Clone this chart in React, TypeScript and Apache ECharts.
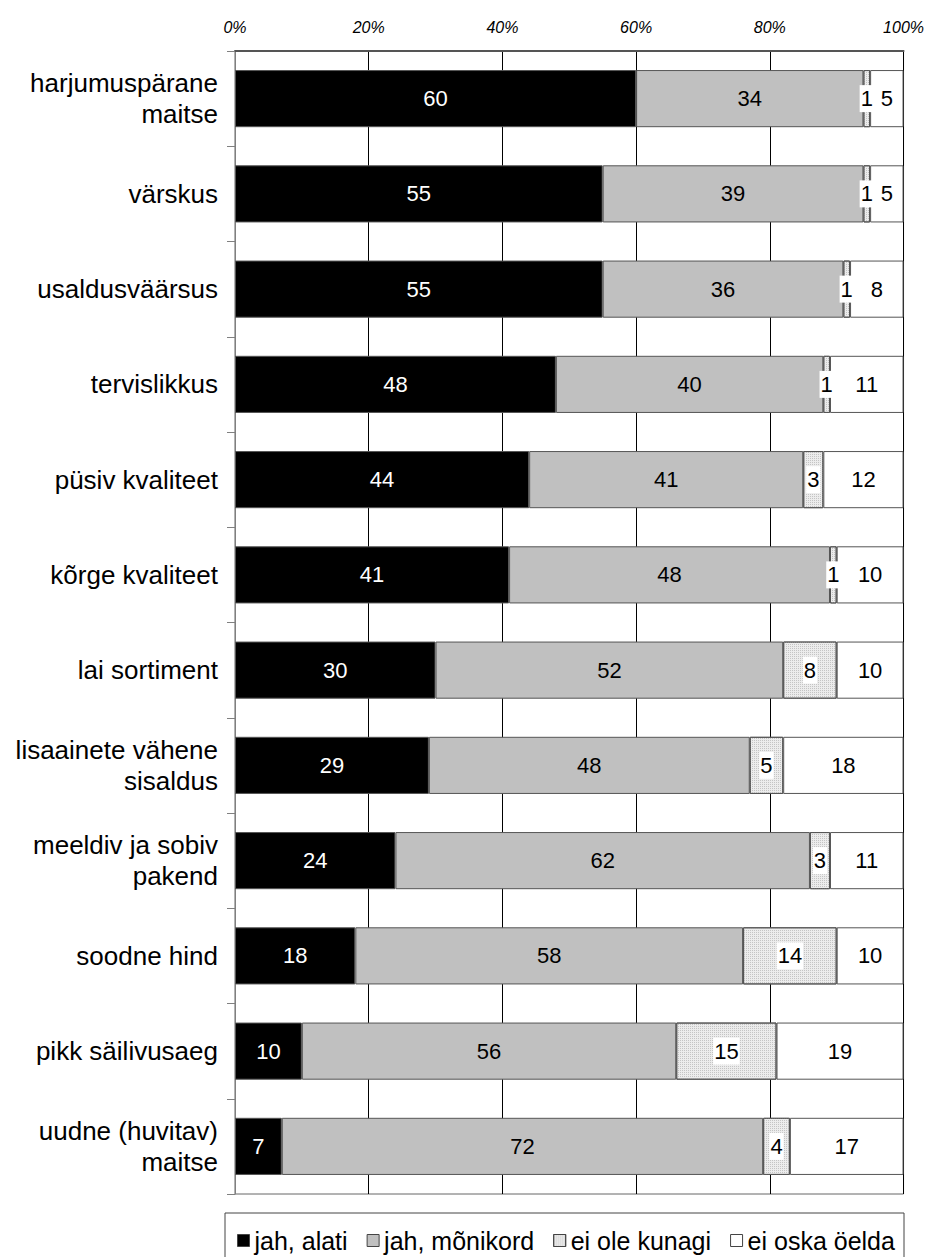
import React, { useEffect, useRef } from "react";
import * as echarts from "echarts";

const categories = [
  "harjumuspärane\nmaitse",
  "värskus",
  "usaldusväärsus",
  "tervislikkus",
  "püsiv kvaliteet",
  "kõrge kvaliteet",
  "lai sortiment",
  "lisaainete vähene\nsisaldus",
  "meeldiv ja sobiv\npakend",
  "soodne hind",
  "pikk säilivusaeg",
  "uudne (huvitav)\nmaitse",
];
const jahAlati = [60, 55, 55, 48, 44, 41, 30, 29, 24, 18, 10, 7];
const jahMonikord = [34, 39, 36, 40, 41, 48, 52, 48, 62, 58, 56, 72];
const eiOleKunagi = [1, 1, 1, 1, 3, 1, 8, 5, 3, 14, 15, 4];
const eiOska = [5, 5, 8, 11, 12, 10, 10, 18, 11, 10, 19, 17];
const seriesNames = ["jah, alati", "jah, mõnikord", "ei ole kunagi", "ei oska öelda"];
const tickValues = [0, 20, 40, 60, 80, 100];

const FONT = "Liberation Sans, Arial, sans-serif";

export default function App() {
  const ref = useRef<HTMLDivElement>(null);
  useEffect(() => {
    if (!ref.current) return;
    const chart = echarts.init(ref.current, null, { renderer: "svg" });
    const colors = ["#000000", "#c0c0c0", "#ececec", "#ffffff"];
    const datasets = [jahAlati, jahMonikord, eiOleKunagi, eiOska];
    const series = datasets.map((d, i) => ({
      name: seriesNames[i],
      type: "bar",
      stack: "total",
      data: d,
      barWidth: "60%",
      itemStyle: {
        color: colors[i],
        borderColor: "#555",
        borderWidth: 1,
        decal:
          i === 2
            ? {
                symbol: "rect",
                symbolSize: 1,
                color: "#c4c4c4",
                dashArrayX: [1, 1],
                dashArrayY: [1, 1],
                rotation: 0,
              }
            : "none",
      },
      label: {
        show: true,
        position: "inside",
        color: i === 0 ? "#fff" : "#000",
        fontFamily: FONT,
        fontSize: 22,
        backgroundColor: i === 2 ? "#fff" : "transparent",
        padding: i === 2 ? [3, 1, 2, 1] : 0,
      },
      emphasis: { disabled: true },
    }));
    chart.setOption({
      animation: false,
      grid: {
        left: 235,
        right: 22,
        top: 51,
        bottom: 63,
        containLabel: false,
        show: true,
        borderColor: "#666",
        borderWidth: 1,
      },
      xAxis: {
        type: "value",
        position: "top",
        min: 0,
        max: 100,
        interval: 20,
        axisLine: { show: true, lineStyle: { color: "#555", width: 2 } },
        axisTick: { show: false },
        splitLine: { show: true, lineStyle: { color: "#000", width: 1 } },
        axisLabel: {
          formatter: (v: number) => (tickValues.includes(v) ? v + "%" : ""),
          fontFamily: FONT,
          fontStyle: "italic",
          fontSize: 16,
          color: "#000",
          margin: 16,
        },
      },
      yAxis: {
        type: "category",
        data: categories,
        inverse: true,
        axisLine: { show: true, lineStyle: { color: "#808080", width: 1 } },
        axisTick: { show: true, length: 8, lineStyle: { color: "#808080" } },
        axisLabel: {
          fontFamily: FONT,
          fontSize: 26,
          color: "#000",
          margin: 17,
          lineHeight: 31,
          align: "right",
        },
      },
      legend: {
        data: seriesNames,
        left: 237,
        top: 1228,
        padding: 0,
        itemWidth: 12,
        itemHeight: 12,
        itemGap: 19,
        icon: "rect",
        textStyle: { fontFamily: FONT, fontSize: 25, color: "#000" },
        itemStyle: { borderColor: "#444", borderWidth: 1 },
        selectedMode: false,
      },
      graphic: [
        {
          type: "rect",
          shape: { x: 225, y: 1213, width: 679, height: 60 },
          style: { fill: "none", stroke: "#444", lineWidth: 1 },
          silent: true,
          z: -1,
        },
      ],
      series,
    });
    return () => chart.dispose();
  }, []);
  return (
    <div
      ref={ref}
      style={{ position: "absolute", left: 0, top: 0, width: 927, height: 1257 }}
    />
  );
}
